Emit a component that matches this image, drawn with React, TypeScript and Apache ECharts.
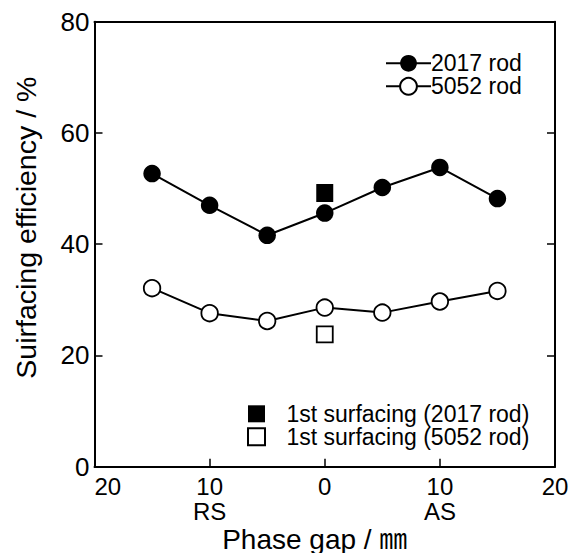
import React, { useEffect, useRef } from "react";
import * as echarts from "echarts";

const phaseGap = [-15, -10, -5, 0, 5, 10, 15];
const rod2017 = [52.7, 47.0, 41.6, 45.6, 50.2, 53.8, 48.2];
const rod5052 = [32.1, 27.6, 26.2, 28.6, 27.7, 29.7, 31.6];
const first2017 = [[0, 49.2]];
const first5052 = [[0, 23.8]];
const seriesNames = ["2017 rod", "5052 rod", "1st surfacing (2017 rod)", "1st surfacing (5052 rod)"];
const xSideLabels: Record<string, string> = { "-10": "RS", "10": "AS" };
const yTicks = { min: 0, max: 80, interval: 20 };
const xTicks = { min: -20, max: 20, interval: 10 };

const FONT = "'Liberation Sans', Arial, Helvetica, 'Noto Sans CJK JP', sans-serif";

export default function App() {
  const ref = useRef<HTMLDivElement>(null);
  useEffect(() => {
    if (!ref.current) return;
    const chart = echarts.init(ref.current, undefined, { renderer: "svg" });
    const pairs = (ys: number[]) => phaseGap.map((x, i) => [x, ys[i]]);
    const black = "#000";
    const frameLine = { show: true, onZero: false, lineStyle: { color: black, width: 2 } };
    const tick = { show: true, inside: true, length: 8, lineStyle: { color: black, width: 1.5 } };
    chart.setOption({
      animation: false,
      backgroundColor: "#fff",
      textStyle: { fontFamily: FONT, color: black },
      grid: { left: 94.5, right: 16, top: 21.7, bottom: 86.3, containLabel: false, outerBoundsMode: "none" },
      legend: [
        {
          data: [seriesNames[0], seriesNames[1]],
          orient: "vertical",
          left: 385,
          top: 51.8,
          padding: 0,
          itemWidth: 45,
          itemHeight: 21,
          itemGap: 0,
          selectedMode: false,
          textStyle: { fontSize: 23, lineHeight: 21, color: black, fontFamily: FONT, padding: [0, 0, 0, -5] },
        },
        {
          data: [seriesNames[2], seriesNames[3]],
          orient: "vertical",
          left: 247,
          top: 402.3,
          padding: 0,
          itemWidth: 17,
          itemHeight: 17,
          itemGap: 0,
          selectedMode: false,
          textStyle: { fontSize: 23, lineHeight: 22, color: black, fontFamily: FONT, padding: [0, 0, 0, 16.4] },
        },
      ],
      xAxis: [
        {
          type: "value",
          min: xTicks.min,
          max: xTicks.max,
          interval: xTicks.interval,
          position: "bottom",
          splitLine: { show: false },
          axisLine: frameLine,
          axisTick: tick,
          axisLabel: {
            margin: 6.5,
            alignMinLabel: "left",
            color: black,
            formatter: (v: number) => {
              const side = xSideLabels[String(v)];
              const main = "{a|" + Math.abs(v) + "}";
              return side ? main + "\n{b|" + side + "}" : main;
            },
            rich: {
              a: { fontSize: 24, lineHeight: 25.7, fontFamily: FONT, color: black },
              b: { fontSize: 24, lineHeight: 25.7, fontFamily: FONT, color: black },
            },
          },
          name: "Phase gap / ㎜",
          nameLocation: "middle",
          nameMoveOverlap: false,
          nameGap: 59,
          nameTextStyle: { fontSize: 28, color: black, fontFamily: FONT, padding: [0, 20, 0, 0] },
        },
        {
          type: "value",
          min: xTicks.min,
          max: xTicks.max,
          interval: xTicks.interval,
          position: "top",
          splitLine: { show: false },
          axisLine: frameLine,
          axisTick: { show: false },
          axisLabel: { show: false },
        },
      ],
      yAxis: [
        {
          type: "value",
          min: yTicks.min,
          max: yTicks.max,
          interval: yTicks.interval,
          position: "left",
          splitLine: { show: false },
          axisLine: frameLine,
          axisTick: tick,
          axisLabel: { margin: 5, fontSize: 26, color: black, fontFamily: FONT },
          name: "Suirfacing efficiency / %",
          nameLocation: "middle",
          nameMoveOverlap: false,
          nameGap: 54,
          nameTextStyle: { fontSize: 28.5, color: black, fontFamily: FONT, padding: [0, 0, 0, 33] },
        },
        {
          type: "value",
          min: yTicks.min,
          max: yTicks.max,
          interval: yTicks.interval,
          position: "right",
          splitLine: { show: false },
          axisLine: frameLine,
          axisTick: tick,
          axisLabel: { show: false },
        },
      ],
      series: [
        {
          name: seriesNames[0],
          type: "line",
          data: pairs(rod2017),
          symbol: "circle",
          symbolSize: 17.5,
          itemStyle: { color: black },
          lineStyle: { color: black, width: 2 },
        },
        {
          name: seriesNames[1],
          type: "line",
          data: pairs(rod5052),
          symbol: "circle",
          symbolSize: 16.5,
          itemStyle: { color: "#fff", borderColor: black, borderWidth: 1.8 },
          lineStyle: { color: black, width: 2 },
        },
        {
          name: seriesNames[2],
          type: "scatter",
          data: first2017,
          symbol: "rect",
          symbolSize: [17, 18],
          itemStyle: { color: black, opacity: 1 },
        },
        {
          name: seriesNames[3],
          type: "scatter",
          data: first5052,
          symbol: "rect",
          symbolSize: 16,
          itemStyle: { color: "#fff", borderColor: black, borderWidth: 1.8, opacity: 1 },
        },
      ],
    });
    return () => chart.dispose();
  }, []);
  return (
    <div
      ref={ref}
      style={{ position: "absolute", left: 0, top: 0, width: 571, height: 553 }}
    />
  );
}
